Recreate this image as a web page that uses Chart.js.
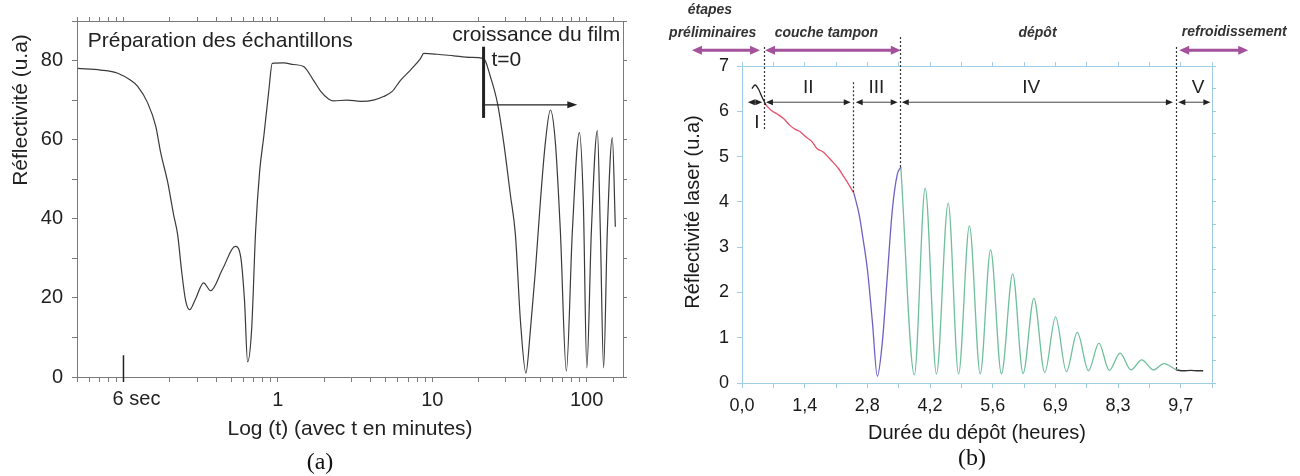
<!DOCTYPE html>
<html><head><meta charset="utf-8">
<script src="https://cdn.jsdelivr.net/npm/chart.js@4.4.1/dist/chart.umd.min.js"></script>
<style>
html,body{margin:0;padding:0;background:#fff;width:1300px;height:476px;overflow:hidden;}
#ca{position:absolute;left:0;top:0;}
#cb{position:absolute;left:650px;top:0;}
.lab{position:absolute;font-family:"Liberation Serif","DejaVu Serif",serif;font-size:24px;color:#111;transform:translateX(-50%);line-height:28px;}
</style></head><body>
<canvas id="ca" width="650" height="476"></canvas>
<canvas id="cb" width="650" height="476"></canvas>
<div class="lab" style="left:320px;top:447px">(a)</div>
<div class="lab" style="left:972px;top:443px">(b)</div>
<script>
// ---------- Panel (a) data : time in minutes (log axis), reflectivity (u.a) ----------
const timeA = [0.0505,0.0712,0.0918,0.1113,0.1236,0.1434,0.1616,0.1741,0.1932,0.2113,0.2243,0.2380,0.2527,0.2682,0.2934,0.3304,0.3667,0.4386,0.5293,0.5736,0.6088,0.6367,0.6758,0.7175,0.7614,0.8116,0.8743,0.9199,1.094,1.264,1.467,1.702,1.890,2.130,2.294,2.813,3.430,4.164,4.833,5.503,6.226,7.227,8.388,8.810,10.76,13.78,17.67,21.54,23.81,26.42,29.02,32.08,34.56,37.24,40.42,43.21,46.55,50.15,54.05,58.23,62.73,67.59,73.90,80.81,89.72,95.20,100.3,107.3,117.3,122.7,128.8,136.1,146.7,153.4];
const reflA = [78.0,77.6,76.8,75.0,73.5,69.3,63.5,56.8,49.3,41.0,36.0,26.8,19.3,17.0,19.8,23.8,21.8,27.3,33.0,30.5,19.0,3.8,11.8,36.8,51.8,61.0,72.5,79.3,79.4,79.0,78.5,75.0,72.3,70.3,69.8,70.0,69.7,70.0,70.9,72.2,75.0,77.6,80.5,81.8,81.6,81.2,80.8,80.5,75.9,69.3,59.3,46.0,36.0,14.3,1.0,11.8,26.8,44.3,59.3,67.5,59.3,36.8,1.5,36.8,61.8,44.0,2.3,36.8,62.3,36.8,2.3,36.8,60.5,38.0];
const tickValuesA = [0.05,0.06,0.07,0.08,0.09,0.1,0.2,0.3,0.4,0.5,0.6,0.7,0.8,0.9,1,2,3,4,5,6,7,8,9,10,20,30,40,50,60,70,80,90,100,150];
const labeledTicksA = [1,10,100];
const labeledTextA = ['1','10','100'];
const secMarkA = 0.1;          // 6 s = 0.1 min
const secTextA = '6 sec';
const t0A = 21.5;              // début de croissance (min)

// ---------- Panel (b) data : time in hours, reflectivity laser (u.a) ----------
const tI = [0.22,0.29,0.37,0.44,0.53];
const rI = [6.50,6.58,6.48,6.32,6.14];
const tII = [0.53,0.65,0.78,0.92,1.05,1.18,1.29,1.42,1.55,1.66,1.80,1.92,2.03,2.15,2.26,2.38,2.48];
const rII = [6.14,6.02,5.94,5.84,5.70,5.60,5.55,5.43,5.33,5.18,5.10,4.98,4.86,4.72,4.55,4.36,4.19];
const tIII = [2.48,2.53,2.60,2.68,2.78,2.89,3.00,3.11,3.22,3.33,3.44,3.52];
const rIII = [4.19,4.00,3.70,3.20,2.50,1.35,0.15,0.90,2.35,3.80,4.60,4.77];
const tIV = [3.52,3.82,4.06,4.31,4.57,4.80,5.04,5.28,5.51,5.75,6.00,6.23,6.47,6.71,6.95,7.19,7.43,7.68,7.91,8.14,8.38,8.62,8.86,9.12,9.35,9.62];
const rIV = [4.77,0.18,4.30,0.20,3.97,0.20,3.47,0.20,2.94,0.20,2.41,0.21,1.87,0.23,1.46,0.25,1.12,0.27,0.88,0.28,0.66,0.29,0.51,0.29,0.43,0.29];
const tV = [9.62,9.78,9.95,10.10,10.22];
const rV = [0.29,0.27,0.28,0.27,0.27];
const xTickLabelsB = ['0,0','1,4','2,8','4,2','5,6','6,9','8,3','9,7'];
const xTickStepSecB = 2500; // ticks every 2500 s, labelled in hours
const xMaxB = 37500/3600;
const phaseBounds = [0.49,2.47,3.50,9.62];
const phaseNames = ['I','II','III','IV','V'];
const stageNames = ['étapes','préliminaires','couche tampon','dépôt','refroidissement'];

const FONT = '"Liberation Sans", Arial, sans-serif';
Chart.defaults.font.family = FONT;

function pts(xs, ys){ return xs.map((v,i)=>({x:v,y:ys[i]})); }
function head(ctx, x, y, dir, len, hw){
  ctx.beginPath(); ctx.moveTo(x, y); ctx.lineTo(x - dir*len, y - hw); ctx.lineTo(x - dir*len, y + hw); ctx.closePath(); ctx.fill();
}
function dblArrow(ctx, x1, x2, y, len, hw, lw){
  ctx.lineWidth = lw; ctx.beginPath(); ctx.moveTo(x1 + len*0.6, y); ctx.lineTo(x2 - len*0.6, y); ctx.stroke();
  head(ctx, x1, y, -1, len, hw); head(ctx, x2, y, 1, len, hw);
}
function vTitle(ctx, text, x, y, size, color){
  ctx.save(); ctx.translate(x, y); ctx.rotate(-Math.PI/2);
  ctx.font = size + 'px ' + FONT; ctx.fillStyle = color; ctx.textAlign = 'center'; ctx.textBaseline = 'middle';
  ctx.fillText(text, 0, 0); ctx.restore();
}

// ---------------- Panel (a) ----------------
const axA = '#7a7a7a';
const annotA = {
  id:'annotA',
  afterDatasetsDraw(chart){
    const {ctx, scales:{x,y}, chartArea:ca} = chart;
    const px = t=>x.getPixelForValue(t), py = v=>y.getPixelForValue(v);
    ctx.save();
    ctx.fillStyle = '#222'; ctx.strokeStyle = '#222';
    ctx.font = '21px ' + FONT; ctx.textBaseline = 'middle';
    ctx.textAlign = 'left'; ctx.fillText('Préparation des échantillons', px(0.0587), py(85));
    ctx.textAlign = 'right'; ctx.fillText('croissance du film', px(165), py(86.3));
    ctx.textAlign = 'left'; ctx.fillText('t=0', px(24.2), py(80));
    // t=0 bar
    ctx.lineWidth = 3; ctx.beginPath(); ctx.moveTo(px(t0A), py(65.5)); ctx.lineTo(px(t0A), py(83.5)); ctx.stroke();
    // arrow
    ctx.lineWidth = 1.2; ctx.beginPath(); ctx.moveTo(px(t0A), py(68.8)); ctx.lineTo(px(87)-8, py(68.8)); ctx.stroke();
    head(ctx, px(87), py(68.8), 1, 10, 3.5);
    // 6 sec marker and label
    ctx.lineWidth = 1.5; ctx.beginPath(); ctx.moveTo(px(secMarkA), ca.bottom + 5); ctx.lineTo(px(secMarkA), py(5.5)); ctx.stroke();
    ctx.font = '20px ' + FONT; ctx.textAlign = 'center';
    ctx.fillText(secTextA, px(secMarkA) + 13, ca.bottom + 22);
    ctx.restore();
    vTitle(ctx, 'Réflectivité (u.a)', 21, 110, 21, '#222');
  }
};
new Chart(document.getElementById('ca'), {
  type:'line',
  data:{datasets:[{data:pts(timeA, reflA), borderColor:'#3a3a3a', borderWidth:1.2, pointRadius:0, cubicInterpolationMode:'monotone', fill:false}]},
  options:{
    responsive:false, animation:false, events:[],
    layout:{padding:{left:0, right:27, top:17, bottom:0}},
    plugins:{legend:{display:false}, tooltip:{enabled:false}},
    scales:{
      x:{type:'logarithmic', position:'bottom', min:0.05, max:172,
         afterBuildTicks:s=>{ s.ticks = tickValuesA.map(v=>({value:v})); },
         afterFit:s=>{ s.height = 99; },
         ticks:{autoSkip:false, maxRotation:0, padding:6, color:'#222', font:{size:20},
           callback:(v)=>{ const k = labeledTicksA.findIndex(t=>Math.abs(t-v) < t*1e-6); return k>=0 ? labeledTextA[k] : ''; }},
         grid:{drawOnChartArea:false, tickLength:5, color:axA},
         border:{color:axA},
         title:{display:true, text:'Log (t) (avec t en minutes)', color:'#222', font:{size:21}, padding:{top:0, bottom:34}}},
      x2:{type:'logarithmic', position:'top', min:0.05, max:172,
         afterBuildTicks:s=>{ s.ticks = tickValuesA.map(v=>({value:v})); },
         afterFit:s=>{ s.height = 0; },
         ticks:{display:false}, grid:{drawOnChartArea:false, tickLength:4, color:axA}, border:{color:axA}},
      y:{min:0, max:90, afterFit:s=>{ s.width = 77; },
         ticks:{stepSize:10, padding:9, color:'#222', font:{size:20}, callback:v=> v%20===0 ? String(v) : ''},
         grid:{drawOnChartArea:false, tickLength:5, color:axA}, border:{color:axA}},
      y2:{position:'right', min:0, max:90, afterFit:s=>{ s.width = 0; },
         ticks:{display:false, stepSize:10}, grid:{drawOnChartArea:false, tickLength:4, color:axA}, border:{color:axA}}
    }
  },
  plugins:[annotA]
});

// ---------------- Panel (b) ----------------
const axB = '#9fcde3';
const purple = '#a4519c';
const xTicksB = Array.from({length: Math.round(xMaxB*3600/xTickStepSecB)+1}, (_,k)=>k*xTickStepSecB/3600);
const annotB = {
  id:'annotB',
  afterDatasetsDraw(chart){
    const {ctx, scales:{x,y}} = chart;
    const px = t=>x.getPixelForValue(t), py = v=>y.getPixelForValue(v);
    ctx.save();
    // dotted phase boundaries
    const dTop = [7.42,6.64,7.64,7.42], dBot = [5.58,4.19,4.77,0.29];
    ctx.strokeStyle = '#333'; ctx.lineWidth = 1.2; ctx.setLineDash([2,2]);
    phaseBounds.forEach((t,i)=>{ ctx.beginPath(); ctx.moveTo(Math.round(px(t))+0.5, py(dTop[i])); ctx.lineTo(Math.round(px(t))+0.5, py(dBot[i])); ctx.stroke(); });
    ctx.setLineDash([]);
    // interval arrows
    ctx.strokeStyle = '#444'; ctx.fillStyle = '#222';
    const iv = [[0.13,0.45],[0.53,2.41],[2.52,3.45],[3.54,9.55],[9.67,10.38]];
    iv.forEach(([a,b])=>dblArrow(ctx, px(a), px(b), py(6.2), 7, 3, 1));
    // roman numerals
    ctx.font = '19px ' + FONT; ctx.textAlign = 'center'; ctx.textBaseline = 'middle'; ctx.fillStyle = '#222';
    const rx = [0.33,1.47,2.98,6.41,10.11], ry = [5.75,6.51,6.51,6.51,6.51];
    phaseNames.forEach((n,i)=>ctx.fillText(n, px(rx[i]), py(ry[i])));
    // purple stage arrows
    ctx.strokeStyle = purple; ctx.fillStyle = purple;
    [[-1.11,0.40],[0.51,3.52],[9.69,11.22]].forEach(([a,b])=>dblArrow(ctx, px(a), px(b), py(7.35), 10, 4.5, 3));
    // stage names
    ctx.fillStyle = '#333'; ctx.font = 'italic bold 14px ' + FONT;
    const sx = [-0.71,-0.65,1.87,6.55,10.91], sy = [8.23,7.73,7.73,7.73,7.75];
    stageNames.forEach((n,i)=>ctx.fillText(n, px(sx[i]), py(sy[i])));
    ctx.restore();
    vTitle(ctx, 'Réflectivité laser (u.a)', 43, 212, 20, '#1a1a1a');
  }
};
const lineB = (xs, ys, c)=>({data:pts(xs, ys), borderColor:c, borderWidth:1.3, pointRadius:0, cubicInterpolationMode:'monotone', fill:false});
new Chart(document.getElementById('cb'), {
  type:'line',
  data:{datasets:[lineB(tI,rI,'#222'), lineB(tII,rII,'#e8506a'), lineB(tIII,rIII,'#6d62c4'), lineB(tIV,rIV,'#6fbf9c'), lineB(tV,rV,'#333')]},
  options:{
    responsive:false, animation:false, events:[],
    layout:{padding:{left:0, right:88, top:66, bottom:0}},
    plugins:{legend:{display:false}, tooltip:{enabled:false}},
    scales:{
      x:{type:'linear', position:'bottom', min:0, max:xMaxB,
         afterBuildTicks:s=>{ s.ticks = xTicksB.map(v=>({value:v})); },
         afterFit:s=>{ s.height = 93; },
         ticks:{autoSkip:false, maxRotation:0, padding:7, color:'#1a1a1a', font:{size:18},
           callback:(v,i)=> i%2===0 ? (xTickLabelsB[i/2] ?? '') : ''},
         grid:{drawOnChartArea:false, tickLength:5, color:axB}, border:{color:axB},
         title:{display:true, text:'Durée du dépôt (heures)', color:'#1a1a1a', font:{size:20}, padding:{top:0, bottom:31}}},
      x2:{type:'linear', position:'top', min:0, max:xMaxB,
         afterBuildTicks:s=>{ s.ticks = xTicksB.map(v=>({value:v})); },
         afterFit:s=>{ s.height = 0; },
         ticks:{display:false}, grid:{drawOnChartArea:false, tickLength:4, color:axB}, border:{color:axB}},
      y:{min:0, max:7, afterFit:s=>{ s.width = 92; },
         ticks:{stepSize:0.5, padding:8, color:'#1a1a1a', font:{size:18}, callback:v=> Number.isInteger(v) ? String(v) : ''},
         grid:{drawOnChartArea:false, tickLength:5, color:axB}, border:{color:axB}},
      y2:{position:'right', min:0, max:7, afterFit:s=>{ s.width = 0; },
         ticks:{display:false, stepSize:0.5}, grid:{drawOnChartArea:false, tickLength:4, color:axB}, border:{color:axB}}
    }
  },
  plugins:[annotB]
});
</script>
</body></html>
